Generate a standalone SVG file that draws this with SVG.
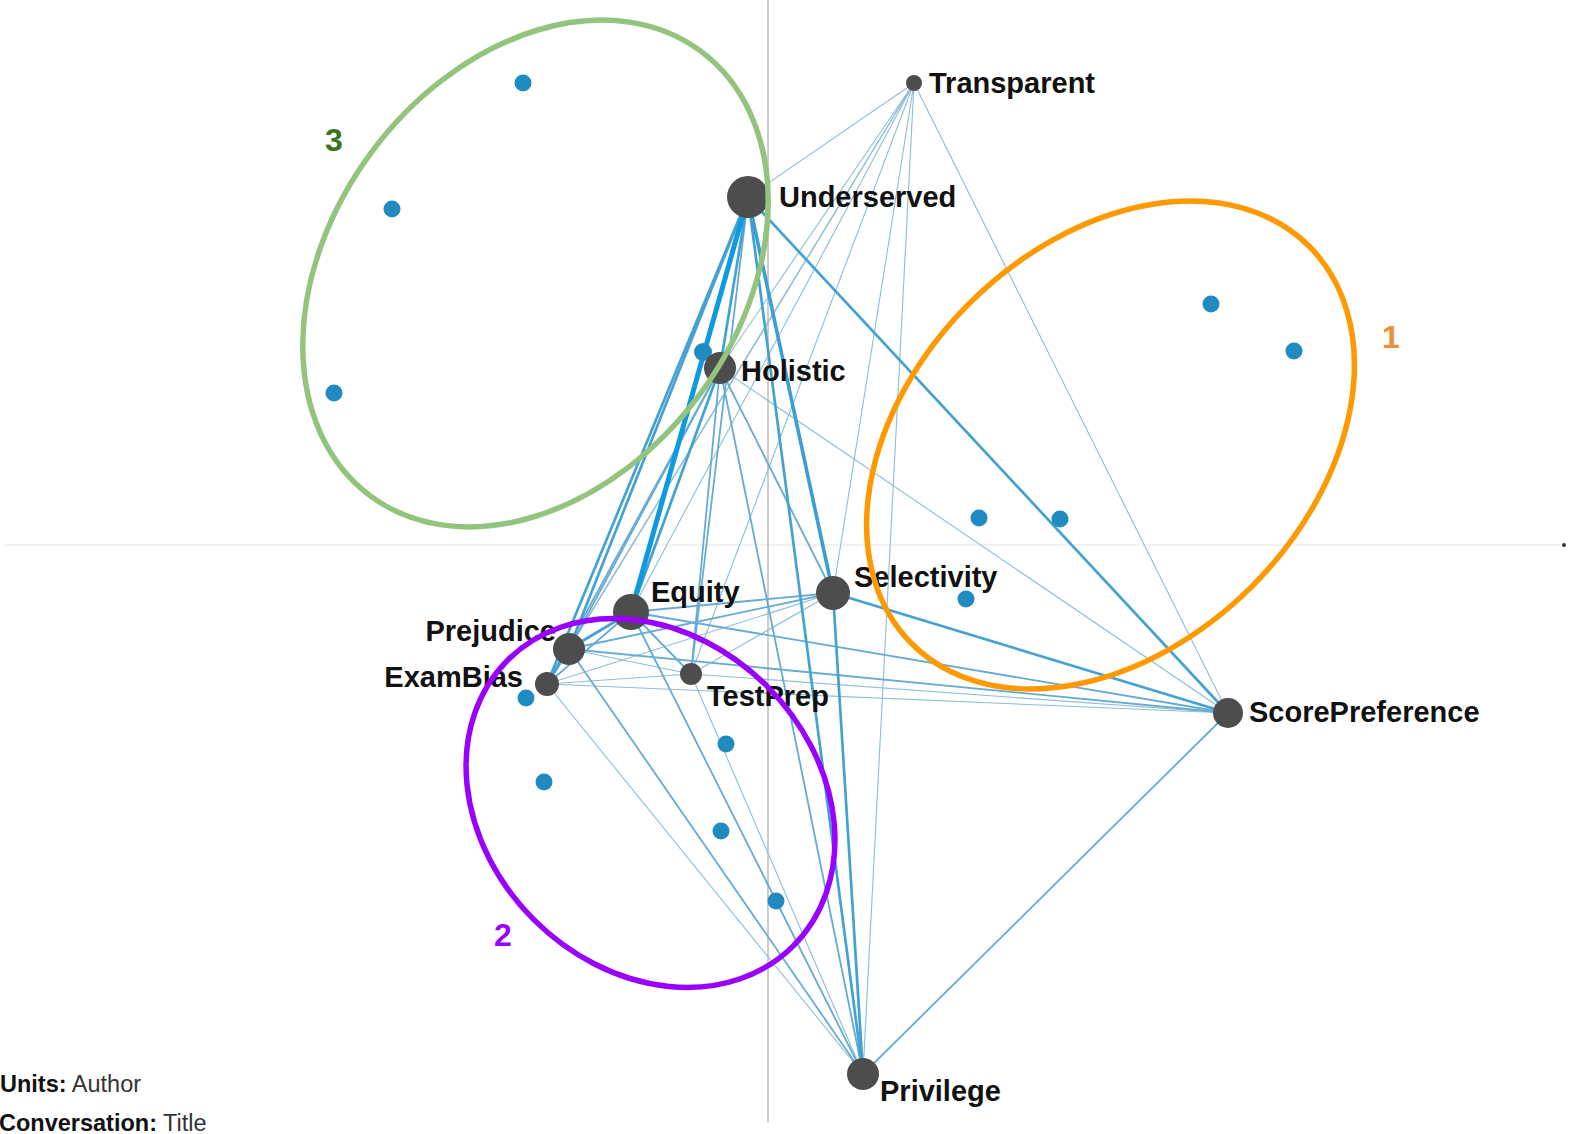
<svg xmlns="http://www.w3.org/2000/svg" width="1573" height="1134" viewBox="0 0 1573 1134">
<style>
.ax{stroke:#bdbdbd;stroke-width:1.5}
.axh{stroke:#eeeeee;stroke-width:1.5}
.e1{stroke:#8dbdd6;stroke-width:1.1;fill:none}
.e2{stroke:#66abd3;stroke-width:1.8;fill:none}
.e3{stroke:#44a2d2;stroke-width:2.7;fill:none}
.e4{stroke:#3a9fd4;stroke-width:3.6;fill:none}
.e5{stroke:#0d9ae0;stroke-width:5}
.n{fill:#4d4d4d}
.d{fill:#1f8bc0}
.lbl{font-family:"Liberation Sans",Arial,sans-serif;font-weight:bold;font-size:29px;fill:#111}
.cl{font-family:"Liberation Sans",Arial,sans-serif;font-weight:bold;font-size:32px;text-anchor:middle}
.ft{font-family:"Liberation Sans",Arial,sans-serif;font-size:23.5px;fill:#333}
.ring{fill:none;stroke-width:5.5}
</style>
<rect width="1573" height="1134" fill="#ffffff"/>
<g id="axes">
<line class="axh" x1="5" y1="545" x2="1563" y2="545"/>
<line class="ax" x1="768" y1="0" x2="768" y2="1122"/>
<circle cx="1564" cy="545" r="2" fill="#333"/>
</g>
<g id="connectors">
<line class="e1" x1="914" y1="83" x2="748" y2="197"/>
<line class="e1" x1="914" y1="83" x2="720" y2="368"/>
<line class="e1" x1="914" y1="83" x2="631" y2="612"/>
<line class="e1" x1="914" y1="83" x2="569" y2="649"/>
<line class="e1" x1="914" y1="83" x2="547" y2="684"/>
<line class="e1" x1="914" y1="83" x2="691" y2="674"/>
<line class="e1" x1="914" y1="83" x2="833" y2="593"/>
<line class="e1" x1="914" y1="83" x2="863" y2="1074"/>
<line class="e1" x1="914" y1="83" x2="1228" y2="713"/>
<line class="e1" x1="720" y1="368" x2="1228" y2="713"/>
<line class="e1" x1="569" y1="649" x2="691" y2="674"/>
<line class="e1" x1="547" y1="684" x2="833" y2="593"/>
<line class="e1" x1="547" y1="684" x2="1228" y2="713"/>
<line class="e1" x1="547" y1="684" x2="863" y2="1074"/>
<line class="e1" x1="547" y1="684" x2="691" y2="674"/>
<line class="e1" x1="691" y1="674" x2="833" y2="593"/>
<line class="e1" x1="691" y1="674" x2="863" y2="1074"/>
<line class="e1" x1="691" y1="674" x2="1228" y2="713"/>
<line class="e2" x1="748" y1="197" x2="691" y2="674"/>
<line class="e2" x1="720" y1="368" x2="569" y2="649"/>
<line class="e2" x1="720" y1="368" x2="547" y2="684"/>
<line class="e2" x1="720" y1="368" x2="691" y2="674"/>
<line class="e2" x1="720" y1="368" x2="833" y2="593"/>
<line class="e2" x1="720" y1="368" x2="863" y2="1074"/>
<line class="e2" x1="631" y1="612" x2="833" y2="593"/>
<line class="e2" x1="631" y1="612" x2="1228" y2="713"/>
<line class="e2" x1="631" y1="612" x2="547" y2="684"/>
<line class="e2" x1="631" y1="612" x2="691" y2="674"/>
<line class="e2" x1="631" y1="612" x2="863" y2="1074"/>
<line class="e2" x1="569" y1="649" x2="833" y2="593"/>
<line class="e2" x1="569" y1="649" x2="1228" y2="713"/>
<line class="e2" x1="569" y1="649" x2="863" y2="1074"/>
<line class="e2" x1="1228" y1="713" x2="863" y2="1074"/>
<line class="e3" x1="748" y1="197" x2="569" y2="649"/>
<line class="e3" x1="748" y1="197" x2="547" y2="684"/>
<line class="e3" x1="748" y1="197" x2="720" y2="368"/>
<line class="e3" x1="748" y1="197" x2="863" y2="1074"/>
<line class="e3" x1="748" y1="197" x2="1228" y2="713"/>
<line class="e3" x1="720" y1="368" x2="631" y2="612"/>
<line class="e3" x1="631" y1="612" x2="569" y2="649"/>
<line class="e3" x1="569" y1="649" x2="547" y2="684"/>
<line class="e3" x1="833" y1="593" x2="1228" y2="713"/>
<line class="e3" x1="833" y1="593" x2="863" y2="1074"/>
<line class="e4" x1="748" y1="197" x2="833" y2="593"/>
<line class="e5" x1="748" y1="197" x2="631" y2="612"/>
</g>
<g id="dots">
<circle class="d" cx="523" cy="83" r="8.5"/>
<circle class="d" cx="392" cy="209" r="8.5"/>
<circle class="d" cx="334" cy="393" r="8.5"/>
<circle class="d" cx="703" cy="352" r="9"/>
<circle class="d" cx="979" cy="518" r="8.5"/>
<circle class="d" cx="1060" cy="519" r="8.5"/>
<circle class="d" cx="1211" cy="304" r="8.5"/>
<circle class="d" cx="1294" cy="351" r="8.5"/>
<circle class="d" cx="966" cy="599" r="8.5"/>
<circle class="d" cx="526" cy="698" r="8.5"/>
<circle class="d" cx="544" cy="782" r="8.5"/>
<circle class="d" cx="726" cy="744" r="8.5"/>
<circle class="d" cx="721" cy="831" r="8.5"/>
<circle class="d" cx="776" cy="901" r="8.5"/>
</g>
<g id="node-transparent"><circle class="n" cx="914" cy="83" r="8"/><text class="lbl" x="929" y="93">Transparent</text></g>
<g id="node-underserved"><circle class="n" cx="748" cy="197" r="21"/><text class="lbl" x="779" y="207">Underserved</text></g>
<g id="node-holistic"><circle class="n" cx="720" cy="368" r="16"/><text class="lbl" x="741" y="381">Holistic</text></g>
<g id="node-equity"><circle class="n" cx="631" cy="612" r="18"/><text class="lbl" x="651" y="602">Equity</text></g>
<g id="node-prejudice"><circle class="n" cx="569" cy="649" r="16"/><text class="lbl" x="556" y="641" text-anchor="end">Prejudice</text></g>
<g id="node-exambias"><circle class="n" cx="547" cy="684" r="12"/><text class="lbl" x="523" y="687" text-anchor="end">ExamBias</text></g>
<g id="node-testprep"><circle class="n" cx="691" cy="674" r="11"/><text class="lbl" x="707" y="706">TestPrep</text></g>
<g id="node-selectivity"><circle class="n" cx="833" cy="593" r="17"/><text class="lbl" x="854" y="587">Selectivity</text></g>
<g id="node-scorepreference"><circle class="n" cx="1228" cy="713" r="15"/><text class="lbl" x="1249" y="722">ScorePreference</text></g>
<g id="node-privilege"><circle class="n" cx="863" cy="1074" r="16"/><text class="lbl" x="880" y="1101">Privilege</text></g>
<g id="clusters">
<ellipse class="ring" stroke="#93c47d" cx="535.5" cy="273.5" rx="277" ry="204" transform="rotate(-53.3 535.5 273.5)"/>
<ellipse class="ring" stroke="#ff9900" cx="1110.5" cy="445" rx="281" ry="200" transform="rotate(-45 1110.5 445)"/>
<ellipse class="ring" stroke="#9900ff" cx="650.5" cy="803" rx="202" ry="165" transform="rotate(45 650.5 803)"/>
<text class="cl" x="334" y="151" fill="#38761d">3</text>
<text class="cl" x="1391" y="348" fill="#e69138">1</text>
<text class="cl" x="503" y="946" fill="#9900ff">2</text>
</g>
<g id="footer">
<text class="ft" x="0" y="1092"><tspan font-weight="bold" fill="#111">Units:</tspan> Author</text>
<text class="ft" x="-1" y="1131"><tspan font-weight="bold" fill="#111">Conversation:</tspan> Title</text>
</g>
</svg>
